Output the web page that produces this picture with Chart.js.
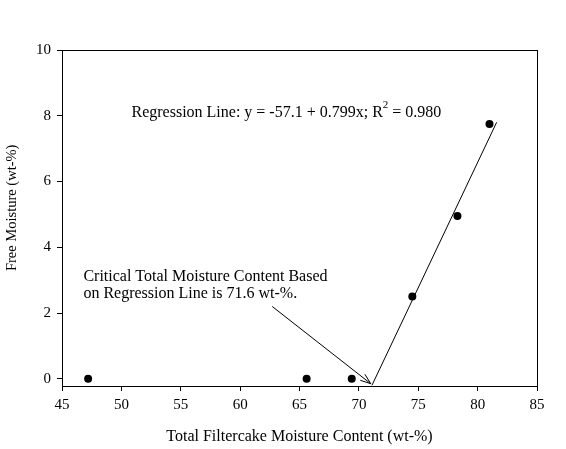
<!DOCTYPE html>
<html>
<head>
<meta charset="utf-8">
<script src="https://cdn.jsdelivr.net/npm/chart.js@4.4.1/dist/chart.umd.min.js"></script>
<style>
  html, body { margin: 0; padding: 0; background: #fff; }
  #wrap { width: 566px; height: 449px; }
</style>
</head>
<body>
<div id="wrap"><canvas id="chart" width="566" height="449"></canvas></div>
<script>
// Measured points: total filtercake moisture vs free moisture
const totalMoisture = [47.2, 65.6, 69.4, 74.5, 78.3, 81.0];
const freeMoisture = [0.0, 0.0, 0.0, 2.5, 4.95, 7.75];

// Regression line as drawn (end points)
const regX = [71.1, 81.6];
const regY = [-0.2, 7.8];

// Axis ticks
const xTicks = [45, 50, 55, 60, 65, 70, 75, 80, 85];
const yTicks = [0, 2, 4, 6, 8, 10];

// Annotation arrow, data units: from [x, y] to [x, y]
const arrowFrom = [62.7, 2.2];
const arrowTo = [71.0, -0.15];

const regText = "Regression Line: y = -57.1 + 0.799x; R";
const regText2 = " = 0.980";
const regTextPos = [50.85, 8.1];
const noteLines = [
  "Critical Total Moisture Content Based",
  "on Regression Line is 71.6 wt-%.",
];
const notePos = [46.8, 3.1];
const noteStep = 0.52;

const yTitle = "Free Moisture (wt-%)";
// y value the rotated title is centred on (sits a bit above the middle)
const yTitleAt = 5.2;

const serif = "'Liberation Serif', 'Times New Roman', serif";

// Box round the plot area, arrow and the text labels
const extras = {
  id: "extras",
  afterDraw(chart) {
    const { ctx, chartArea, scales } = chart;
    const px = (v) => scales.x.getPixelForValue(v);
    const py = (v) => scales.y.getPixelForValue(v);
    ctx.save();
    ctx.strokeStyle = "#000";
    ctx.lineWidth = 1;
    ctx.strokeRect(
      Math.round(chartArea.left) + 0.5,
      Math.round(chartArea.top) + 0.5,
      Math.round(chartArea.right - chartArea.left),
      Math.round(chartArea.bottom - chartArea.top)
    );

    // arrow with open head
    const x1 = px(arrowFrom[0]), y1 = py(arrowFrom[1]);
    const x2 = px(arrowTo[0]), y2 = py(arrowTo[1]);
    ctx.beginPath();
    ctx.moveTo(x1, y1);
    ctx.lineTo(x2, y2);
    const ang = Math.atan2(y2 - y1, x2 - x1);
    const head = 11;
    const spread = 0.35;
    ctx.moveTo(x2 - head * Math.cos(ang - spread), y2 - head * Math.sin(ang - spread));
    ctx.lineTo(x2, y2);
    ctx.lineTo(x2 - head * Math.cos(ang + spread), y2 - head * Math.sin(ang + spread));
    ctx.stroke();

    // texts
    ctx.fillStyle = "#000";
    ctx.textBaseline = "middle";
    ctx.textAlign = "left";
    ctx.font = "16px " + serif;
    let tx = px(regTextPos[0]);
    const ty = py(regTextPos[1]);
    ctx.fillText(regText, tx, ty);
    tx += ctx.measureText(regText).width;
    ctx.font = "11px " + serif;
    ctx.fillText("2", tx, ty - 7);
    tx += ctx.measureText("2").width;
    ctx.font = "16px " + serif;
    ctx.fillText(regText2, tx, ty);

    noteLines.forEach((line, i) => {
      ctx.fillText(line, px(notePos[0]), py(notePos[1] - i * noteStep));
    });

    // y axis title, rotated
    ctx.save();
    ctx.translate(12, py(yTitleAt));
    ctx.rotate(-Math.PI / 2);
    ctx.textAlign = "center";
    ctx.font = "14.5px " + serif;
    ctx.fillText(yTitle, 0, 0);
    ctx.restore();

    ctx.restore();
  },
};

const points = totalMoisture.map((x, i) => ({ x: x, y: freeMoisture[i] }));
const regPoints = regX.map((x, i) => ({ x: x, y: regY[i] }));

const config = {
  type: "scatter",
  data: {
    datasets: [
      {
        data: points,
        pointRadius: 4,
        pointBackgroundColor: "#000",
        pointBorderColor: "#000",
        pointBorderWidth: 0,
      },
      {
        type: "line",
        data: regPoints,
        showLine: true,
        pointRadius: 0,
        borderColor: "#000",
        borderWidth: 1,
        fill: false,
      },
    ],
  },
  options: {
    responsive: false,
    animation: false,
    layout: { padding: { left: 0, top: 50, right: 29, bottom: 0 } },
    plugins: {
      legend: { display: false },
      tooltip: { enabled: false },
    },
    scales: {
      x: {
        type: "linear",
        min: 45,
        max: 85,
        afterBuildTicks: (s) => { s.ticks = xTicks.map((v) => ({ value: v })); },
        afterFit: (s) => { s.height = 63; },
        grid: { drawOnChartArea: false, drawTicks: true, tickLength: 5, color: "#000" },
        border: { display: true, color: "#000" },
        ticks: { color: "#000", padding: 5, font: { family: serif, size: 15 } },
        title: {
          display: true,
          text: "Total Filtercake Moisture Content (wt-%)",
          color: "#000",
          font: { family: serif, size: 16 },
          padding: { top: 0, bottom: 3 },
        },
      },
      y: {
        type: "linear",
        min: -0.22,
        max: 10,
        afterBuildTicks: (s) => { s.ticks = yTicks.map((v) => ({ value: v })); },
        afterFit: (s) => { s.width = 62; },
        grid: { drawOnChartArea: false, drawTicks: true, tickLength: 5, color: "#000" },
        border: { display: true, color: "#000" },
        ticks: { color: "#000", padding: 6, font: { family: serif, size: 15 } },
        title: { display: false },
      },
    },
  },
  plugins: [extras],
};

const ctx = document.getElementById("chart").getContext("2d");
const myChart = new Chart(ctx, config);
</script>
</body>
</html>
